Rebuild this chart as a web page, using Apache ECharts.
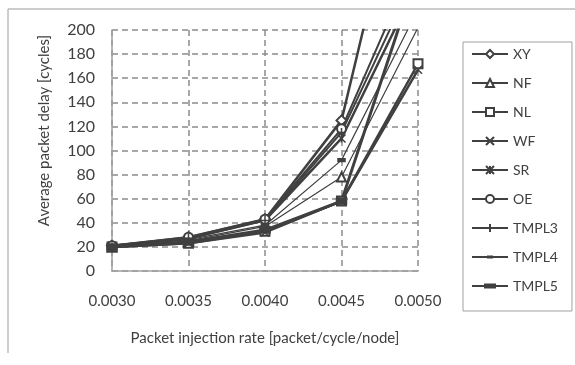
<!DOCTYPE html>
<html>
<head>
<meta charset="utf-8">
<script src="https://cdn.jsdelivr.net/npm/echarts@6/dist/echarts.min.js"></script>
<style>
	html, body {margin: 0; padding: 0; background: #fff;}
	#chart {width: 575px; height: 365px;}
</style>
</head>
<body>
<div id="chart"></div>
<script>
	// packet injection rate
	var rates = ['0.0030', '0.0035', '0.0040', '0.0045', '0.0050'];
	var yTicks = [0, 20, 40, 60, 80, 100, 120, 140, 160, 180, 200];
	var names = ['XY', 'NF', 'NL', 'WF', 'SR', 'OE', 'TMPL3', 'TMPL4', 'TMPL5'];

	var xy = [21, 28, 43, 125, 390];
	var nf = [20, 25, 37, 78, 202];
	var nl = [20, 23, 33, 58, 172];
	var wf = [20, 23, 32, 58, 167];
	var sr = [21, 27, 42, 110, 240];
	var oe = [21, 28, 43, 118, 263];
	var tmpl3 = [20, 27, 42, 115, 250];
	var tmpl4 = [20, 26, 38, 92, 217];
	var tmpl5 = [20, 24, 34, 58, 250];

	var ink = '#404040';
	var crossPath = 'path://M0,0L10,10M10,0L0,10';
	var starPath = 'path://M0,0L10,10M10,0L0,10M5,0L5,10';
	var tickPath = 'path://M0,5L10,5M5,0L5,10';
	var dashPath = 'path://M0,0L10,0L10,4L0,4Z';
	var barPath = 'path://M0,0L10,0L10,6L0,6Z';
	// legend icons for the two flat markers: line plus a small bar (tiny corner specks pin the box to 36x10)
	var corners = 'M0,0L0.02,0L0,0.02Z M36,10L35.98,10L36,9.98Z ';
	var dashIcon = 'path://' + corners + 'M0,4L36,4L36,6L0,6Z M15,3.5L21,3.5L21,6.5L15,6.5Z';
	var barIcon = 'path://' + corners + 'M0,4L36,4L36,6L0,6Z M12,2.5L24,2.5L24,7.5L12,7.5Z';

	function mk(name, data, symbol, size, width) {
		return {
			name: name,
			type: 'line',
			data: data,
			symbol: symbol,
			symbolSize: size,
			symbolKeepAspect: true,
			lineStyle: {color: ink, width: width},
			itemStyle: {color: ink, borderColor: ink, borderWidth: 1.5},
			emphasis: {disabled: true},
			z: 3
		};
	}

	var legendData = names.map(function (n) {
		if (n === 'TMPL4') return {name: n, icon: dashIcon, itemStyle: {borderWidth: 0}};
		if (n === 'TMPL5') return {name: n, icon: barIcon, itemStyle: {borderWidth: 0}};
		return {name: n};
	});

	var chart = echarts.init(document.getElementById('chart'));
	chart.setOption({
		animation: false,
		backgroundColor: '#fff',
		textStyle: {fontFamily: 'Lato', color: ink},
		grid: {left: 112, right: 157, top: 30, bottom: 94},
		graphic: [
			{type: 'line', shape: {x1: 8, y1: 9, x2: 575, y2: 9}, style: {stroke: '#bdbdbd', lineWidth: 1.5}},
			{type: 'line', shape: {x1: 8, y1: 9, x2: 8, y2: 353}, style: {stroke: '#bdbdbd', lineWidth: 1.5}}
		],
		legend: {
			data: legendData,
			orient: 'vertical',
			left: 463,
			top: 42,
			padding: [5, 14, 18, 8],
			itemWidth: 36,
			itemHeight: 10,
			itemGap: 15,
			borderColor: '#a0a0a0',
			borderWidth: 1,
			textStyle: {fontFamily: 'Lato', fontSize: 14, color: ink}
		},
		xAxis: {
			type: 'category',
			data: rates,
			boundaryGap: false,
			name: 'Packet injection rate [packet/cycle/node]',
			nameLocation: 'middle',
			nameGap: 60,
			nameTextStyle: {fontSize: 15, color: ink},
			axisLine: {lineStyle: {color: '#a0a0a0', width: 1.5}},
			axisTick: {show: false},
			axisLabel: {fontSize: 15, color: ink, margin: 23},
			splitLine: {show: true, lineStyle: {color: '#8c8c8c', width: 1.5, type: [6, 4]}}
		},
		yAxis: {
			type: 'value',
			min: yTicks[0],
			max: yTicks[yTicks.length - 1],
			interval: yTicks[1] - yTicks[0],
			name: 'Average packet delay [cycles]',
			nameLocation: 'middle',
			nameGap: 60,
			nameRotate: 90,
			nameTextStyle: {fontSize: 15, color: ink, padding: [0, 0, 0, 40]},
			axisLine: {show: true, lineStyle: {color: '#a0a0a0', width: 1.5}},
			axisTick: {show: false},
			axisLabel: {fontSize: 16, color: ink, margin: 17},
			splitLine: {show: true, lineStyle: {color: '#8c8c8c', width: 1.5, type: [6, 4]}}
		},
		series: [
			mk('XY', xy, 'emptyDiamond', 10, 2.5),
			mk('NF', nf, 'emptyTriangle', 9, 1.2),
			mk('NL', nl, 'emptyRect', 9, 2.5),
			mk('WF', wf, crossPath, 8, 2.5),
			mk('SR', sr, starPath, 8, 2.5),
			mk('OE', oe, 'emptyCircle', 9, 2),
			mk('TMPL3', tmpl3, tickPath, 9, 2),
			mk('TMPL4', tmpl4, dashPath, 7, 1.2),
			mk('TMPL5', tmpl5, barPath, 10, 3)
		]
	});
</script>
</body>
</html>
